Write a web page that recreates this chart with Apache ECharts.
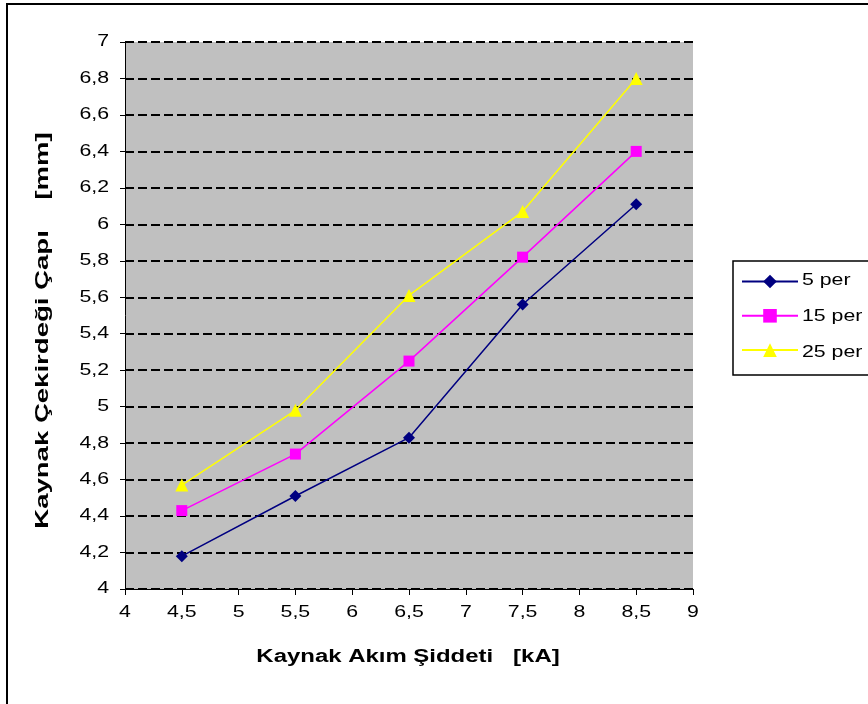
<!DOCTYPE html>
<html>
<head>
<meta charset="utf-8">
<script src="https://cdn.jsdelivr.net/npm/echarts@6/dist/echarts.min.js"></script>
<style>
  html, body { margin: 0; padding: 0; background: #fff; }
  #chart { width: 868px; height: 704px; }
</style>
</head>
<body>
<div id="chart"></div>
<script>
// Welding current (kA) on the x axis
const currents = [4.5, 5.5, 6.5, 7.5, 8.5];
// Weld nugget diameter (mm) per series
const per5  = [4.18, 4.51, 4.83, 5.56, 6.11];
const per15 = [4.43, 4.74, 5.25, 5.82, 6.40];
const per25 = [4.57, 4.98, 5.61, 6.07, 6.80];
const seriesNames = ['5 per', '15 per', '25 per'];
// Axis ticks
const xTicks = [4, 4.5, 5, 5.5, 6, 6.5, 7, 7.5, 8, 8.5, 9];
const yTicks = [4, 4.2, 4.4, 4.6, 4.8, 5, 5.2, 5.4, 5.6, 5.8, 6, 6.2, 6.4, 6.6, 6.8, 7];
const xTitle = 'Kaynak Akım Şiddeti   [kA]';
const yTitle = 'Kaynak Çekirdeği Çapı    [mm]';

const FONT = '"Liberation Sans", Arial, sans-serif';
const WIDE = 1.33;          // horizontal stretch of all text
const comma = v => String(Math.round(v * 10) / 10).replace('.', ',');
const pairs = ys => currents.map((x, i) => [x, ys[i]]);

const chart = echarts.init(document.getElementById('chart'));
const plainAxis = {
  axisLine: { show: true, lineStyle: { color: '#000', width: 1 } },
  axisLabel: { show: false },
  splitLine: { show: false }
};

chart.setOption({
  backgroundColor: '#ffffff',
  animation: false,
  grid: {
    left: 125, top: 42, right: 175, bottom: 115,
    show: true, backgroundColor: '#c0c0c0', borderWidth: 0
  },
  legend: {
    left: 736, top: 268, orient: 'vertical', padding: 5,
    itemWidth: 56, itemHeight: 17, itemGap: 19,
    data: seriesNames,
    formatter: () => '',
    textStyle: { fontSize: 1 },
    z: 5
  },
  xAxis: Object.assign({}, plainAxis, {
    type: 'value', min: 4, max: 9, interval: 0.5,
    axisTick: { show: true, length: 6, lineStyle: { color: '#000' } }
  }),
  yAxis: [
    Object.assign({}, plainAxis, {
      type: 'value', min: 4, max: 7, interval: 0.2,
      axisTick: { show: true, length: 5, lineStyle: { color: '#000' } },
      splitLine: { show: true, lineStyle: { color: '#000', width: 2, type: [9, 4] } }
    }),
    // inner half of the crossing tick marks on the value axis
    {
      type: 'value', min: 4, max: 7, interval: 0.2, position: 'left',
      axisLine: { show: false }, axisLabel: { show: false }, splitLine: { show: false },
      axisTick: { show: true, inside: true, length: 5, lineStyle: { color: '#000' } }
    }
  ],
  series: [
    { name: seriesNames[0], type: 'line', data: pairs(per5),
      symbol: 'diamond', symbolSize: 12,
      lineStyle: { color: '#000080', width: 1.5 }, itemStyle: { color: '#000080' } },
    { name: seriesNames[1], type: 'line', data: pairs(per15),
      symbol: 'rect', symbolSize: 11,
      lineStyle: { color: '#ff00ff', width: 1.5 }, itemStyle: { color: '#ff00ff' } },
    { name: seriesNames[2], type: 'line', data: pairs(per25),
      symbol: 'triangle', symbolSize: 13,
      lineStyle: { color: '#ffff00', width: 1.5 }, itemStyle: { color: '#ffff00' } }
  ]
});

// Text is drawn as stretched graphic text, placed from the axis scales
function txt(text, x, y, size, opts) {
  opts = opts || {};
  return Object.assign({
    type: 'text', x: x, y: y, scaleX: opts.wide || WIDE, silent: true, z: 10,
    style: {
      text: text, fill: '#000', fontFamily: FONT, fontSize: size,
      fontWeight: opts.bold ? 'bold' : 'normal',
      align: opts.align || 'center', verticalAlign: 'middle'
    }
  }, opts.extra || {});
}

const px = (x, y) => chart.convertToPixel({ xAxisIndex: 0, yAxisIndex: 0 }, [x, y]);
const x0 = px(4, 4)[0], yBottom = px(4, 4)[1], yTop = px(4, 7)[1];
const xRight = px(9, 4)[0];

const graphics = [
  { type: 'rect', shape: { x: 7, y: 4, width: 900, height: 800 },
    style: { fill: 'none', stroke: '#000', lineWidth: 2 }, silent: true },
  { type: 'rect', shape: { x: 733, y: 261, width: 200, height: 114 },
    style: { fill: '#fff', stroke: '#000', lineWidth: 1.5 }, silent: true, z: 0 }
];
yTicks.forEach(v => graphics.push(txt(comma(v), x0 - 16, px(4, v)[1], 16, { align: 'right' })));
xTicks.forEach(v => graphics.push(txt(comma(v), px(v, 4)[0], yBottom + 24, 16)));
graphics.push(txt(xTitle, (x0 + xRight) / 2 - 1, yBottom + 68, 18, { bold: true }));
graphics.push(txt(yTitle, 43, (yTop + yBottom) / 2 + 15, 19,
  { bold: true, wide: 1.45, extra: { rotation: Math.PI / 2 } }));
seriesNames.forEach((n, i) => graphics.push(txt(n, 802, 281 + i * 36, 16, { align: 'left' })));

chart.setOption({ graphic: graphics });
</script>
</body>
</html>
